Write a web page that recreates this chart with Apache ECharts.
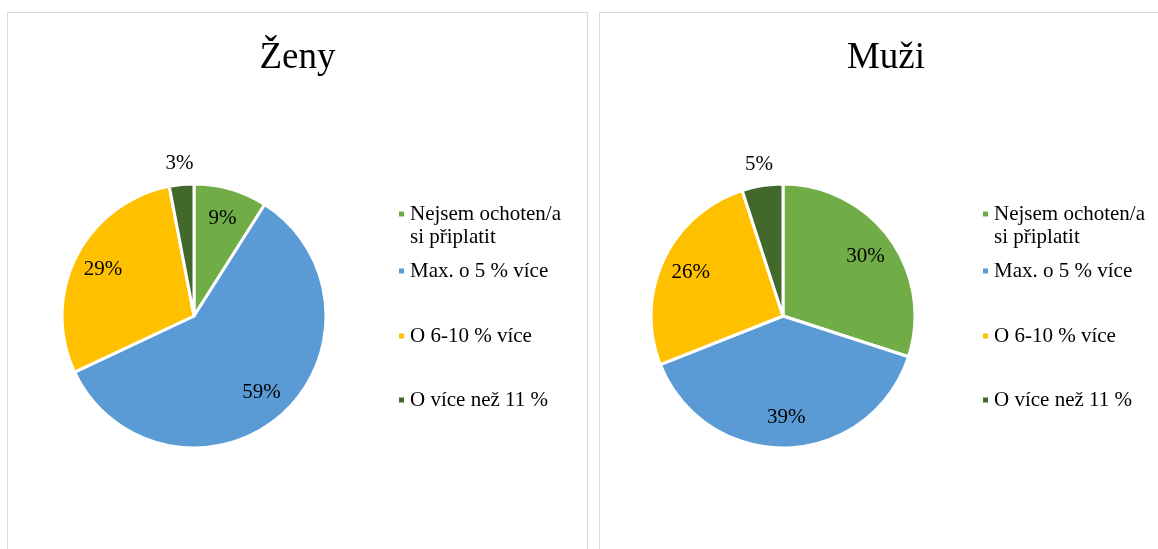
<!DOCTYPE html>
<html>
<head>
<meta charset="utf-8">
<script src="https://cdn.jsdelivr.net/npm/echarts@6/dist/echarts.min.js"></script>
<style>
    html, body { margin: 0; padding: 0; background: #fff; overflow: hidden; width: 1158px; height: 549px; }
    .panel { position: absolute; top: 12px; border: 1px solid #d9d9d9; height: 560px; }
    #left { left: 7px; width: 579px; }
    #right { left: 599px; width: 572px; }
</style>
</head>
<body>
<div class="panel" id="left"></div>
<div class="panel" id="right"></div>
<script>
// data
const categories = ['Nejsem ochoten/a si připlatit', 'Max. o 5 % více', 'O 6-10 % více', 'O více než 11 %'];
const zenyValues = [9, 59, 29, 3];
const muziValues = [30, 39, 26, 5];
const colors = ['#70AD47', '#5B9BD5', '#FFC000', '#43682B'];

const font = 'Liberation Serif';
const R = 132;

// legend rows (text centre y of first line inside the panel)
const legendRows = [200, 258, 323, 387];

// square marker sitting on the first of two text lines
const topLineIcon = 'path://M0,8h7v7h-7zM0,0h0.01v0.01zM6.99,45.99h0.01v0.01z';

function build(el, title, values, cx, legendLeft) {
    const chart = echarts.init(el);
    const items = (small) => categories.map((n, i) => ({
        name: n,
        value: values[i],
        label: { show: small ? values[i] < 6 : values[i] >= 6 }
    }));
    const legends = categories.map((n, i) => ({
        data: [n],
        orient: 'vertical',
        left: legendLeft,
        top: legendRows[i] - 11.5,
        padding: 0,
        itemWidth: 7,
        itemHeight: i === 0 ? 46 : 7,
        icon: i === 0 ? topLineIcon : 'rect',
        selectedMode: false,
        formatter: (name) => name === categories[0] ? 'Nejsem ochoten/a\nsi připlatit' : name,
        textStyle: {
            fontFamily: font,
            fontSize: 21,
            color: '#000',
            lineHeight: 23
        }
    }));
    const labelStyle = {
        position: 'inside',
        formatter: '{c}%',
        fontFamily: font,
        fontSize: 21,
        color: '#000'
    };
    const option = {
        color: colors,
        animation: false,
        title: {
            text: title,
            left: 'center',
            top: 22,
            textStyle: { fontFamily: font, fontSize: 37, fontWeight: 'normal', color: '#000' }
        },
        legend: legends,
        series: [
            {
                type: 'pie',
                center: [cx, 303],
                radius: R,
                startAngle: 90,
                itemStyle: { borderColor: '#fff', borderWidth: 3 },
                label: { show: false },
                labelLine: { show: false },
                data: categories.map((n, i) => ({ name: n, value: values[i] }))
            },
            {
                // transparent copy, labels at 3/4 of the radius
                type: 'pie',
                silent: true,
                center: [cx, 303],
                radius: R * 1.5,
                startAngle: 90,
                itemStyle: { color: 'rgba(0,0,0,0)' },
                label: labelStyle,
                data: items(false)
            },
            {
                // transparent copy, labels of small slices outside the pie
                type: 'pie',
                silent: true,
                center: [cx, 303],
                radius: R * 2.28,
                startAngle: 90,
                itemStyle: { color: 'rgba(0,0,0,0)' },
                label: labelStyle,
                data: items(true)
            }
        ]
    };
    chart.setOption(option);
}

build(document.getElementById('left'), 'Ženy', zenyValues, 186, 389);
build(document.getElementById('right'), 'Muži', muziValues, 183, 381);
</script>
</body>
</html>
